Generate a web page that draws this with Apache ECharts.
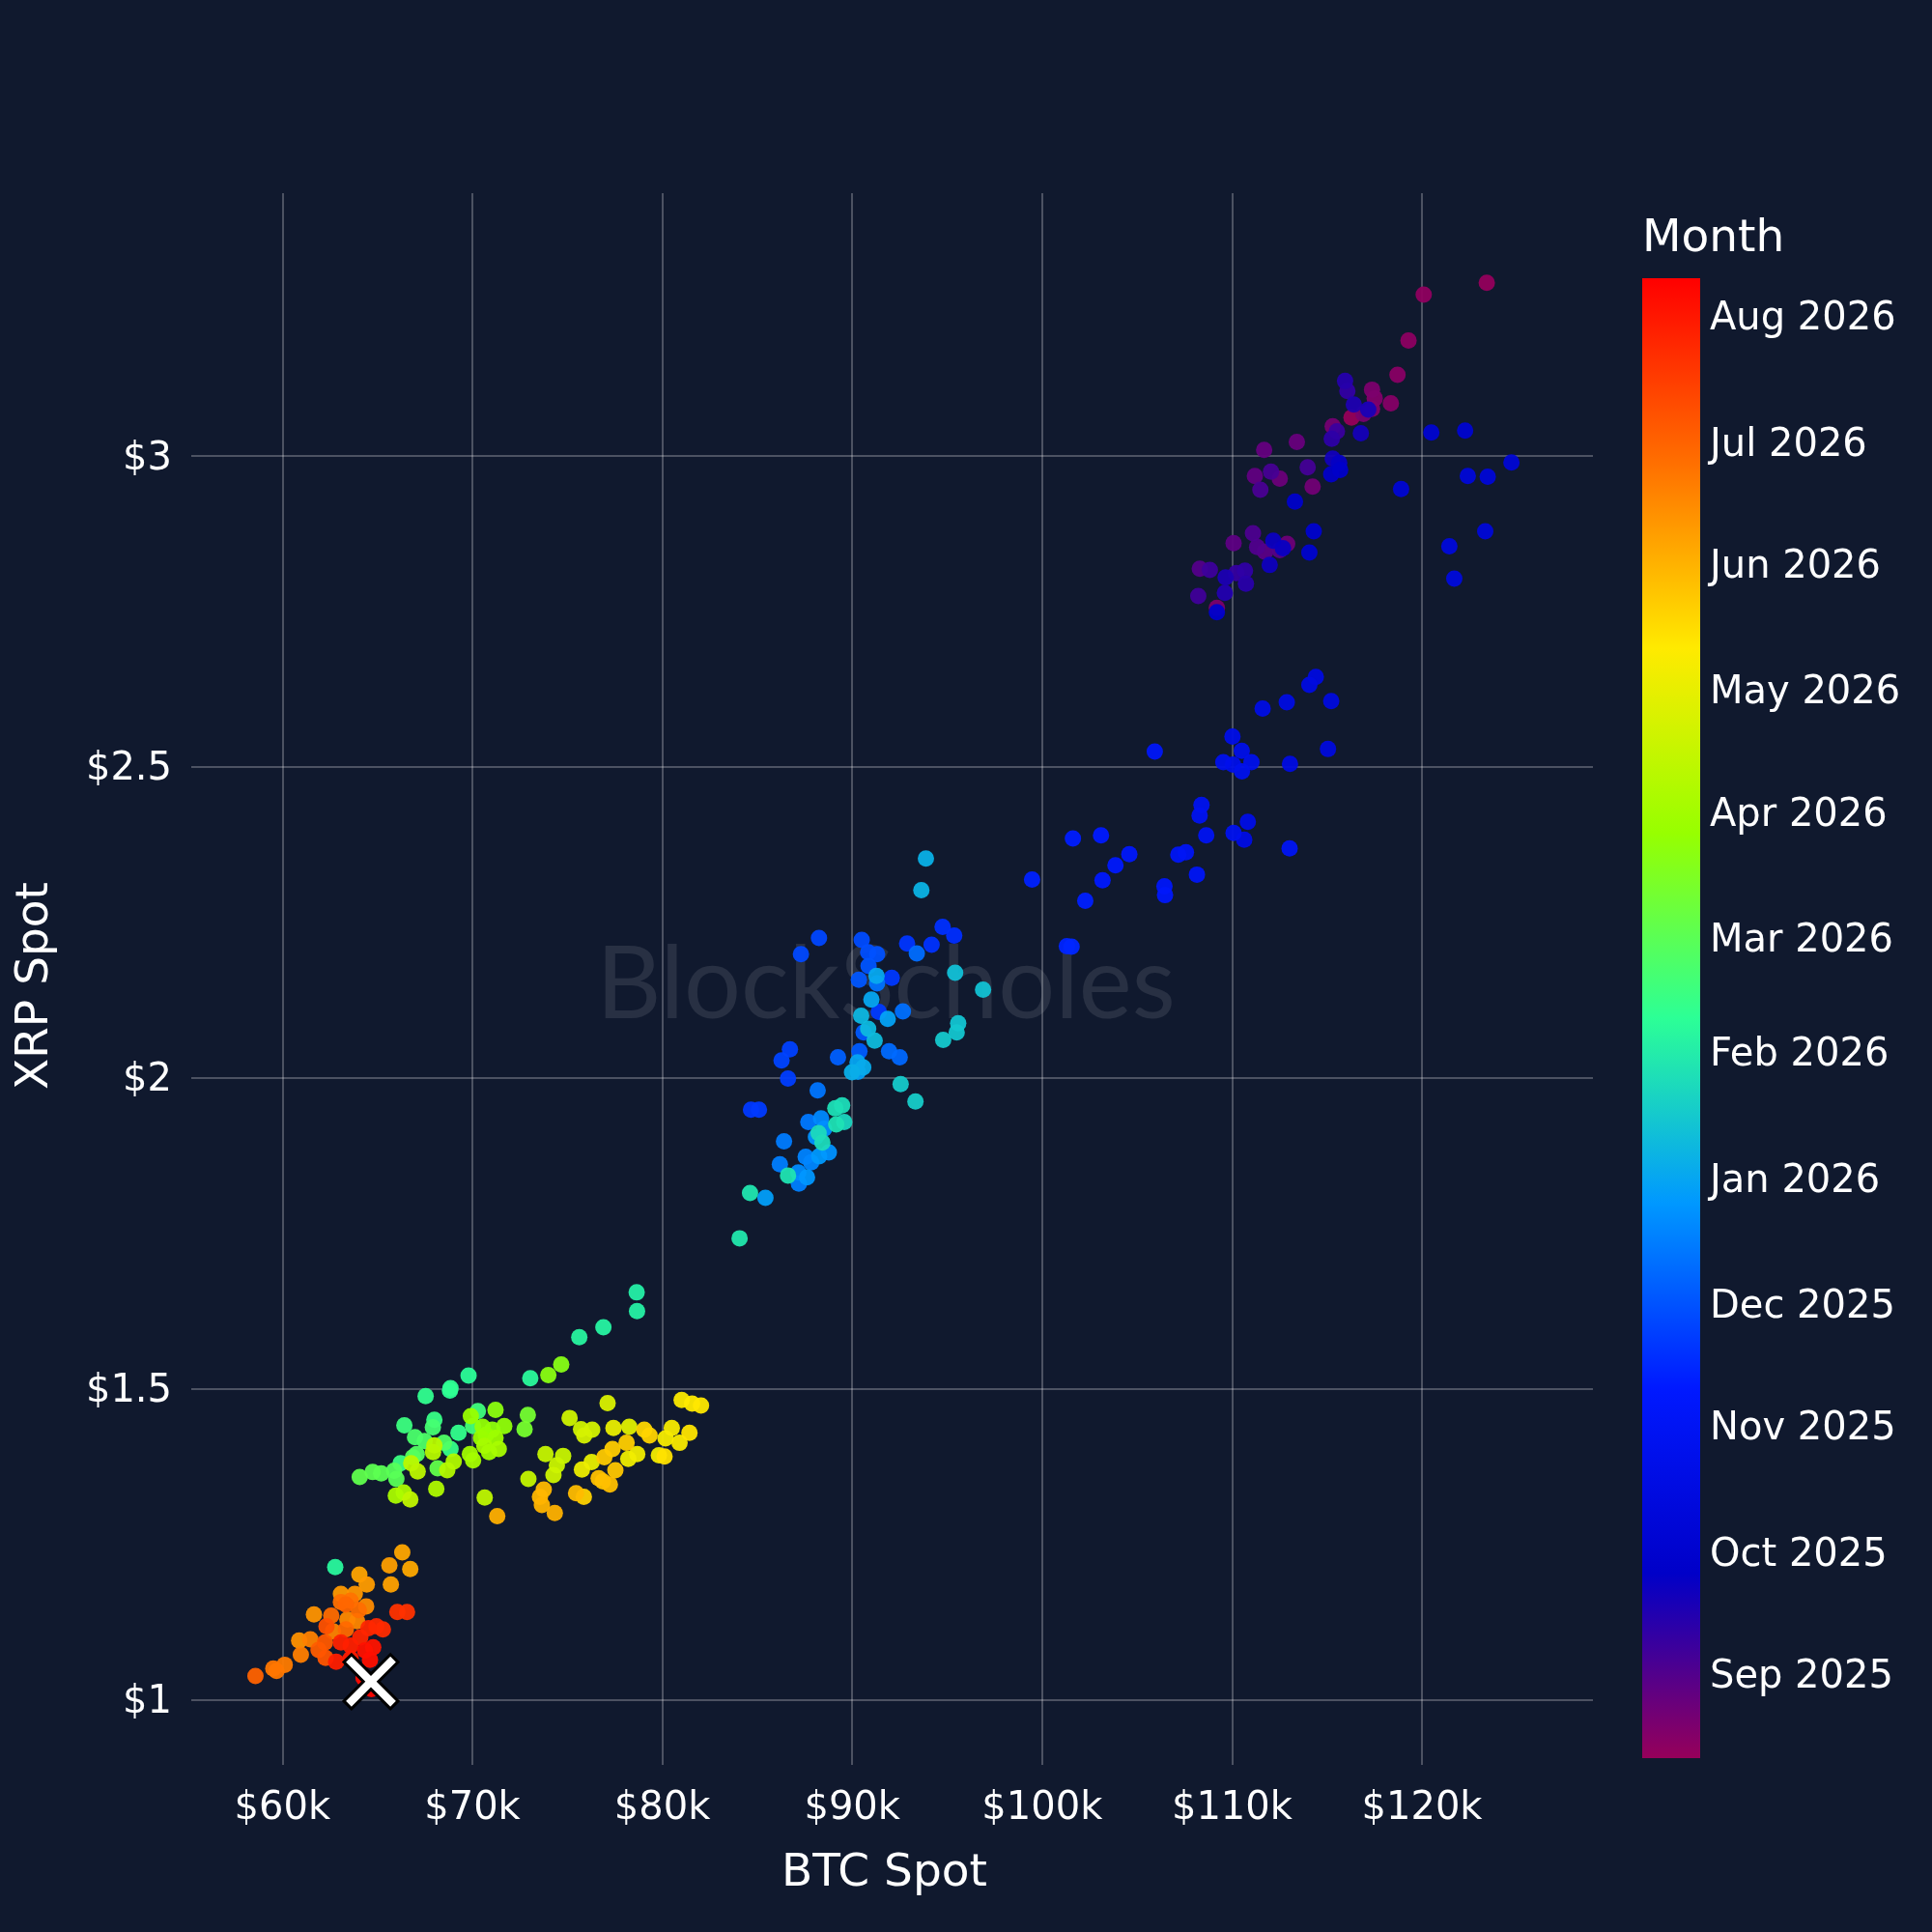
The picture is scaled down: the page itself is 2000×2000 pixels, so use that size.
<!DOCTYPE html>
<html>
<head>
<meta charset="utf-8">
<title>BTC Spot vs XRP Spot</title>
<script src="https://cdn.jsdelivr.net/npm/echarts@6.0.0/dist/echarts.min.js"></script>
<style>
  html, body { margin: 0; padding: 0; background: #10192e; }
  #chart { width: 2000px; height: 2000px; }
</style>
</head>
<body>
<div id="chart"></div>
<script>
const spotAug2025 = [
  ['2025-08-11', 116290, 3.062], ['2025-08-12', 123410, 3.279], ['2025-08-13', 120090, 3.260],
  ['2025-08-14', 119290, 3.186], ['2025-08-15', 118710, 3.131], ['2025-08-16', 118360, 3.085],
  ['2025-08-17', 117510, 3.093], ['2025-08-18', 117370, 3.076], ['2025-08-19', 117370, 3.107],
  ['2025-08-20', 116920, 3.068], ['2025-08-21', 115300, 3.048], ['2025-08-22', 114240, 2.951],
  ['2025-08-23', 112900, 2.859], ['2025-08-24', 112510, 2.964], ['2025-08-25', 113410, 3.023],
  ['2025-08-26', 111690, 3.010], ['2025-08-27', 111200, 2.968], ['2025-08-28', 110080, 2.860],
  ['2025-08-29', 111740, 2.846], ['2025-08-30', 112510, 2.849], ['2025-08-31', 108300, 2.819],
  ['2025-08-19', 109200, 2.756]
]
const spotSep2025 = [
  ['2025-09-01', 111320, 2.854], ['2025-09-02', 111100, 2.876], ['2025-09-03', 111490, 2.946],
  ['2025-09-04', 112050, 2.975], ['2025-09-05', 113980, 2.982], ['2025-09-06', 108220, 2.775],
  ['2025-09-07', 108830, 2.817], ['2025-09-08', 115520, 3.040], ['2025-09-09', 110220, 2.812],
  ['2025-09-10', 116070, 3.105], ['2025-09-11', 110680, 2.816], ['2025-09-12', 115250, 3.028],
  ['2025-09-13', 110730, 2.795], ['2025-09-14', 115950, 3.121], ['2025-09-15', 109620, 2.780],
  ['2025-09-16', 116410, 3.083], ['2025-09-17', 109660, 2.805], ['2025-09-18', 117170, 3.075],
  ['2025-09-19', 116780, 3.037], ['2025-09-20', 115300, 2.996], ['2025-09-21', 111980, 2.825],
  ['2025-09-22', 112170, 2.864], ['2025-09-23', 112680, 2.852], ['2025-09-24', 115640, 2.989],
  ['2025-09-25', 115220, 2.971], ['2025-09-26', 115690, 2.978], ['2025-09-27', 113310, 2.927],
  ['2025-09-28', 109200, 2.749], ['2025-09-30', 114300, 2.879]
]
const spotOct2025 = [
  ['2025-10-01', 114070, 2.845], ['2025-10-02', 122270, 3.041], ['2025-10-03', 120490, 3.038],
  ['2025-10-05', 118900, 2.947], ['2025-10-06', 124710, 2.990], ['2025-10-07', 123460, 2.967],
  ['2025-10-08', 122410, 2.968], ['2025-10-09', 123330, 2.879], ['2025-10-10', 121440, 2.855],
  ['2025-10-11', 121700, 2.803], ['2025-10-12', 115050, 2.529], ['2025-10-13', 115220, 2.606],
  ['2025-10-14', 114410, 2.645], ['2025-10-15', 114070, 2.632], ['2025-10-16', 113050, 2.505],
  ['2025-10-17', 112880, 2.604], ['2025-10-18', 110640, 2.383], ['2025-10-19', 111610, 2.594],
  ['2025-10-20', 110830, 2.412], ['2025-10-21', 110020, 2.549], ['2025-10-22', 110050, 2.504],
  ['2025-10-23', 110510, 2.526], ['2025-10-24', 111020, 2.508], ['2025-10-25', 109540, 2.508],
  ['2025-10-26', 110520, 2.493], ['2025-10-27', 110080, 2.394], ['2025-10-28', 108390, 2.439],
  ['2025-10-29', 108290, 2.422], ['2025-10-30', 108640, 2.390], ['2025-10-31', 113030, 2.369]
]
const spotNov2025 = [
  ['2025-11-01', 107570, 2.363], ['2025-11-02', 107170, 2.359], ['2025-11-03', 108150, 2.327],
  ['2025-11-04', 105930, 2.525], ['2025-11-05', 106440, 2.308], ['2025-11-06', 106470, 2.294],
  ['2025-11-07', 104590, 2.360], ['2025-11-08', 103860, 2.342], ['2025-11-09', 103180, 2.318],
  ['2025-11-10', 103100, 2.390], ['2025-11-11', 101620, 2.385], ['2025-11-12', 102270, 2.285],
  ['2025-11-13', 99470, 2.319], ['2025-11-14', 101300, 2.212], ['2025-11-15', 101550, 2.211],
  ['2025-11-17', 95370, 2.229], ['2025-11-18', 94760, 2.243], ['2025-11-19', 94180, 2.214],
  ['2025-11-20', 92890, 2.216], ['2025-11-21', 84670, 1.949], ['2025-11-22', 85090, 1.949],
  ['2025-11-23', 86620, 1.999], ['2025-11-24', 86720, 2.046], ['2025-11-25', 86280, 2.028],
  ['2025-11-26', 88250, 2.225], ['2025-11-27', 87300, 2.199], ['2025-11-28', 90500, 2.222],
  ['2025-11-29', 90840, 2.202], ['2025-11-30', 91310, 2.199], ['2025-11-21', 92080, 2.161],
  ['2025-11-22', 91400, 2.106]
]
const spotDec2025 = [
  ['2025-12-01', 90860, 2.180], ['2025-12-02', 90350, 2.158], ['2025-12-03', 90600, 2.073],
  ['2025-12-04', 90380, 2.043], ['2025-12-05', 89250, 2.033], ['2025-12-08', 92500, 2.033],
  ['2025-12-09', 91940, 2.043], ['2025-12-10', 93400, 2.200], ['2025-12-11', 92670, 2.107],
  ['2025-12-12', 91310, 2.152], ['2025-12-13', 88180, 1.980], ['2025-12-14', 87690, 1.929],
  ['2025-12-15', 86410, 1.898], ['2025-12-16', 86190, 1.861], ['2025-12-17', 87190, 1.830],
  ['2025-12-18', 87550, 1.873], ['2025-12-19', 87840, 1.864], ['2025-12-20', 88360, 1.935],
  ['2025-12-21', 87160, 1.848], ['2025-12-22', 88520, 1.918], ['2025-12-23', 88770, 1.880],
  ['2025-12-24', 88090, 1.905], ['2025-12-25', 87620, 1.840], ['2025-12-26', 88260, 1.874],
  ['2025-12-28', 85430, 1.807], ['2025-12-29', 90300, 2.010], ['2025-12-30', 91870, 2.095],
  ['2025-12-31', 90280, 2.025]
]
const spotJan2026 = [
  ['2026-01-01', 91010, 2.126], ['2026-01-02', 91280, 2.164], ['2026-01-03', 90580, 2.017],
  ['2026-01-04', 89990, 2.009], ['2026-01-05', 93880, 2.353], ['2026-01-06', 93640, 2.302],
  ['2026-01-08', 90470, 2.100], ['2026-01-09', 90840, 2.079], ['2026-01-10', 91180, 2.060],
  ['2026-01-12', 95420, 2.169], ['2026-01-13', 96890, 2.142], ['2026-01-14', 95580, 2.088],
  ['2026-01-15', 95500, 2.073], ['2026-01-16', 94790, 2.061], ['2026-01-17', 92550, 1.990],
  ['2026-01-18', 93330, 1.962], ['2026-01-22', 89580, 1.929], ['2026-01-23', 88230, 1.911],
  ['2026-01-24', 88430, 1.896], ['2026-01-25', 89470, 1.956], ['2026-01-26', 89110, 1.951],
  ['2026-01-27', 89160, 1.925], ['2026-01-28', 86620, 1.843], ['2026-01-29', 84620, 1.815],
  ['2026-01-30', 84070, 1.742]
]
const spotFeb2026 = [
  ['2026-02-02', 78650, 1.655], ['2026-02-03', 78670, 1.625], ['2026-02-04', 76900, 1.599],
  ['2026-02-05', 75630, 1.583], ['2026-02-06', 62780, 1.213], ['2026-02-07', 73050, 1.517],
  ['2026-02-08', 69800, 1.521], ['2026-02-09', 68820, 1.497], ['2026-02-10', 68850, 1.501],
  ['2026-02-11', 67540, 1.488], ['2026-02-12', 69270, 1.429], ['2026-02-13', 68850, 1.403],
  ['2026-02-14', 68000, 1.450], ['2026-02-15', 66220, 1.380], ['2026-02-16', 66420, 1.441],
  ['2026-02-17', 70290, 1.464], ['2026-02-18', 70040, 1.440], ['2026-02-20', 67920, 1.438],
  ['2026-02-22', 66980, 1.422], ['2026-02-23', 67490, 1.416], ['2026-02-24', 68510, 1.413],
  ['2026-02-25', 67070, 1.395], ['2026-02-26', 66870, 1.390], ['2026-02-27', 65880, 1.368],
  ['2026-02-28', 66000, 1.355]
]
const spotMar2026 = [
  ['2026-03-01', 65200, 1.364], ['2026-03-02', 64750, 1.366], ['2026-03-03', 64070, 1.358],
  ['2026-03-04', 68170, 1.372], ['2026-03-12', 72920, 1.458], ['2026-03-13', 72750, 1.435],
  ['2026-03-20', 74680, 1.539], ['2026-03-21', 74000, 1.522], ['2026-03-22', 71220, 1.466],
  ['2026-03-23', 71050, 1.434], ['2026-03-24', 71680, 1.440], ['2026-03-25', 70540, 1.439],
  ['2026-03-26', 70710, 1.426], ['2026-03-27', 69920, 1.456], ['2026-03-28', 70460, 1.421],
  ['2026-03-29', 71220, 1.421], ['2026-03-30', 70880, 1.398], ['2026-03-31', 69870, 1.395]
]
const spotApr2026 = [
  ['2026-04-01', 70040, 1.385], ['2026-04-02', 70630, 1.408], ['2026-04-03', 71390, 1.403],
  ['2026-04-04', 65970, 1.328], ['2026-04-05', 66390, 1.333], ['2026-04-06', 68100, 1.339],
  ['2026-04-07', 69020, 1.383], ['2026-04-08', 68680, 1.369], ['2026-04-09', 67930, 1.398],
  ['2026-04-10', 68000, 1.409], ['2026-04-11', 66780, 1.380], ['2026-04-12', 67120, 1.367],
  ['2026-04-13', 70650, 1.325], ['2026-04-14', 66730, 1.322], ['2026-04-15', 72950, 1.355],
  ['2026-04-16', 73850, 1.395], ['2026-04-17', 74780, 1.392], ['2026-04-18', 74450, 1.377],
  ['2026-04-19', 74270, 1.361], ['2026-04-20', 75120, 1.453], ['2026-04-21', 75720, 1.435],
  ['2026-04-22', 76310, 1.434], ['2026-04-23', 75890, 1.425], ['2026-04-25', 77120, 1.477],
  ['2026-04-28', 78260, 1.439]
]
const spotMay2026 = [
  ['2026-05-01', 76280, 1.382], ['2026-05-02', 77430, 1.437], ['2026-05-03', 75770, 1.370],
  ['2026-05-04', 78210, 1.387], ['2026-05-05', 78680, 1.395], ['2026-05-06', 79820, 1.393],
  ['2026-05-07', 80170, 1.420], ['2026-05-08', 80500, 1.437], ['2026-05-09', 80910, 1.413],
  ['2026-05-10', 81020, 1.482], ['2026-05-11', 81570, 1.476], ['2026-05-12', 82040, 1.473],
  ['2026-05-13', 81430, 1.429], ['2026-05-14', 80120, 1.391], ['2026-05-18', 79050, 1.434],
  ['2026-05-19', 79330, 1.425], ['2026-05-20', 75870, 1.326], ['2026-05-21', 78120, 1.413],
  ['2026-05-22', 77380, 1.403], ['2026-05-23', 76950, 1.390], ['2026-05-24', 77530, 1.369],
  ['2026-05-25', 76870, 1.351], ['2026-05-26', 76650, 1.356], ['2026-05-27', 77240, 1.346],
  ['2026-05-28', 75460, 1.332], ['2026-05-29', 73760, 1.338], ['2026-05-30', 73560, 1.326],
  ['2026-05-31', 73660, 1.313]
]
const spotJun2026 = [
  ['2026-06-01', 74340, 1.300], ['2026-06-02', 71310, 1.295], ['2026-06-04', 66730, 1.210],
  ['2026-06-05', 66310, 1.237], ['2026-06-06', 64050, 1.201], ['2026-06-07', 65710, 1.185],
  ['2026-06-08', 65630, 1.216], ['2026-06-09', 64440, 1.185], ['2026-06-10', 63080, 1.170],
  ['2026-06-11', 63810, 1.170], ['2026-06-12', 61660, 1.137], ['2026-06-13', 60880, 1.095],
  ['2026-06-15', 64410, 1.150], ['2026-06-16', 63420, 1.129], ['2026-06-17', 63930, 1.126],
  ['2026-06-18', 62660, 1.110], ['2026-06-19', 61470, 1.097], ['2026-06-20', 60970, 1.072],
  ['2026-06-21', 60120, 1.056], ['2026-06-22', 59690, 1.046], ['2026-06-23', 59520, 1.050],
  ['2026-06-24', 63590, 1.159], ['2026-06-25', 63080, 1.157], ['2026-06-26', 64020, 1.144],
  ['2026-06-27', 62570, 1.135], ['2026-06-28', 63340, 1.113], ['2026-06-29', 63340, 1.153]
]
const spotJul2026 = [
  ['2026-07-01', 58580, 1.038], ['2026-07-03', 61900, 1.080], ['2026-07-05', 62240, 1.092],
  ['2026-07-06', 62270, 1.067], ['2026-07-08', 62320, 1.118], ['2026-07-20', 66050, 1.141],
  ['2026-07-21', 66560, 1.141], ['2026-07-23', 65290, 1.113], ['2026-07-24', 64950, 1.118],
  ['2026-07-25', 64530, 1.115], ['2026-07-26', 64100, 1.100], ['2026-07-27', 63080, 1.092],
  ['2026-07-28', 63590, 1.087], ['2026-07-29', 62830, 1.061], ['2026-07-30', 63590, 1.066]
]
const spotAug2026 = [
  ['2026-08-02', 64780, 1.084], ['2026-08-03', 64350, 1.079], ['2026-08-04', 64610, 1.064],
  ['2026-08-06', 64270, 1.035], ['2026-08-08', 64690, 1.017], ['2026-08-10', 64660, 1.029]
]
// latest observation, drawn as the white cross
const latestSpot = ['2026-08-10', 64660, 1.029]

const btcTicks = [60000, 70000, 80000, 90000, 100000, 110000, 120000]
const xrpTicks = [1, 1.5, 2, 2.5, 3]
const colorbarTicks = ['2025-09-01', '2025-10-01', '2025-11-01', '2025-12-01', '2026-01-01', '2026-02-01',
  '2026-03-01', '2026-04-01', '2026-05-01', '2026-06-01', '2026-07-01', '2026-08-01']
const monthNames = ['Jan', 'Feb', 'Mar', 'Apr', 'May', 'Jun', 'Jul', 'Aug', 'Sep', 'Oct', 'Nov', 'Dec']
const colorRange = ['2025-08-11', '2026-08-10']
// rainbow colour scale, bottom (oldest) to top (newest)
const rainbowScale = ['rgb(150,0,90)', 'rgb(0,0,200)', 'rgb(0,25,255)', 'rgb(0,152,255)', 'rgb(44,255,150)',
  'rgb(151,255,0)', 'rgb(255,234,0)', 'rgb(255,111,0)', 'rgb(255,0,0)']

const FONT = 'DejaVu Sans'
const BG = '#10192e'

function toTs(s) {
  const [y, m, d] = s.split('-').map(Number)
  return Date.UTC(y, m - 1, d)
}

const allSpots = [].concat(spotAug2025, spotSep2025, spotOct2025, spotNov2025, spotDec2025, spotJan2026,
  spotFeb2026, spotMar2026, spotApr2026, spotMay2026, spotJun2026, spotJul2026, spotAug2026)
// oldest first so the newest dots sit on top
const points = allSpots.map(([d, b, x]) => [b, x, toTs(d)]).sort((a, b) => a[2] - b[2])

const tMin = toTs(colorRange[0])
const tMax = toTs(colorRange[1])
const gradientStops = rainbowScale.map((c, i) => ({ offset: i / (rainbowScale.length - 1), color: c }))

const chart = echarts.init(document.getElementById('chart'))

chart.setOption({
  backgroundColor: BG,
  animation: false,
  textStyle: { fontFamily: FONT },
  graphic: [
    {
      type: 'text', x: 917, y: 1020, z: -10, silent: true,
      style: { text: 'BlockScholes', fontFamily: 'Lato', fontSize: 104, fill: 'rgba(255,255,255,0.1)', align: 'center', verticalAlign: 'middle' }
    },
    {
      type: 'text', x: 1700, y: 248,
      style: { text: 'Month', fontFamily: FONT, fontSize: 47, fill: '#ffffff', align: 'left', verticalAlign: 'middle' }
    }
  ],
  grid: [
    { left: 198, top: 200, width: 1451, height: 1627 },
    { left: 1700, top: 288, width: 60, height: 1532 }
  ],
  xAxis: [
    {
      type: 'value', min: 55200, max: 129000,
      name: 'BTC Spot', nameLocation: 'middle', nameGap: 89,
      nameTextStyle: { color: '#ffffff', fontSize: 47, fontFamily: FONT, padding: [0, 16, 0, 0] },
      axisLine: { show: false },
      axisTick: { show: false, customValues: btcTicks },
      axisLabel: { customValues: btcTicks, color: '#ffffff', fontSize: 40, margin: 26, formatter: v => '$' + v / 1000 + 'k' },
      splitLine: { show: true, lineStyle: { color: 'rgba(255,255,255,0.25)', width: 2 } }
    },
    { type: 'value', gridIndex: 1, min: 0, max: 1, show: false }
  ],
  yAxis: [
    {
      type: 'value', min: 0.895, max: 3.423,
      name: 'XRP Spot', nameLocation: 'middle', nameGap: 138, nameRotate: 90,
      nameTextStyle: { color: '#ffffff', fontSize: 47, fontFamily: FONT, padding: [0, 14, 0, 0] },
      axisLine: { show: false },
      axisTick: { show: false, customValues: xrpTicks },
      axisLabel: {
        customValues: xrpTicks, color: '#ffffff', fontSize: 40, margin: 20,
        verticalAlign: 'top', lineHeight: 6, formatter: v => '$' + v
      },
      splitLine: { show: true, lineStyle: { color: 'rgba(255,255,255,0.25)', width: 2 } }
    },
    {
      type: 'value', gridIndex: 1, min: tMin, max: tMax, position: 'right',
      axisLine: { show: false },
      axisTick: { show: false, customValues: colorbarTicks.map(toTs) },
      splitLine: { show: false },
      axisLabel: {
        customValues: colorbarTicks.map(toTs), color: '#ffffff', fontSize: 40, margin: 10,
        verticalAlign: 'top', lineHeight: 10,
        formatter: v => { const dt = new Date(v); return monthNames[dt.getUTCMonth()] + ' ' + dt.getUTCFullYear() }
      }
    }
  ],
  visualMap: {
    type: 'continuous', show: false, seriesIndex: 0, dimension: 2,
    min: tMin, max: tMax, inRange: { color: rainbowScale }
  },
  series: [
    {
      type: 'scatter', xAxisIndex: 0, yAxisIndex: 0,
      symbolSize: 17, itemStyle: { opacity: 0.95 },
      data: points
    },
    {
      // colour bar
      type: 'custom', xAxisIndex: 1, yAxisIndex: 1, silent: true,
      data: [[0, tMin, tMax]],
      renderItem(params, api) {
        const p0 = api.coord([0, api.value(1)])
        const p1 = api.coord([1, api.value(2)])
        return {
          type: 'rect',
          shape: { x: p0[0], y: p1[1], width: p1[0] - p0[0], height: p0[1] - p1[1] },
          style: { fill: new echarts.graphic.LinearGradient(0, 1, 0, 0, gradientStops) }
        }
      }
    },
    {
      type: 'scatter', xAxisIndex: 0, yAxisIndex: 0, z: 10,
      symbol: 'path://M0,14 L14,0 L50,36 L86,0 L100,14 L64,50 L100,86 L86,100 L50,64 L14,100 L0,86 L36,50 Z',
      symbolSize: 56,
      itemStyle: { color: '#ffffff', opacity: 1, borderColor: '#000000', borderWidth: 3 },
      data: [[latestSpot[1], latestSpot[2]]]
    }
  ]
})

window.addEventListener('resize', () => chart.resize())
</script>
</body>
</html>
